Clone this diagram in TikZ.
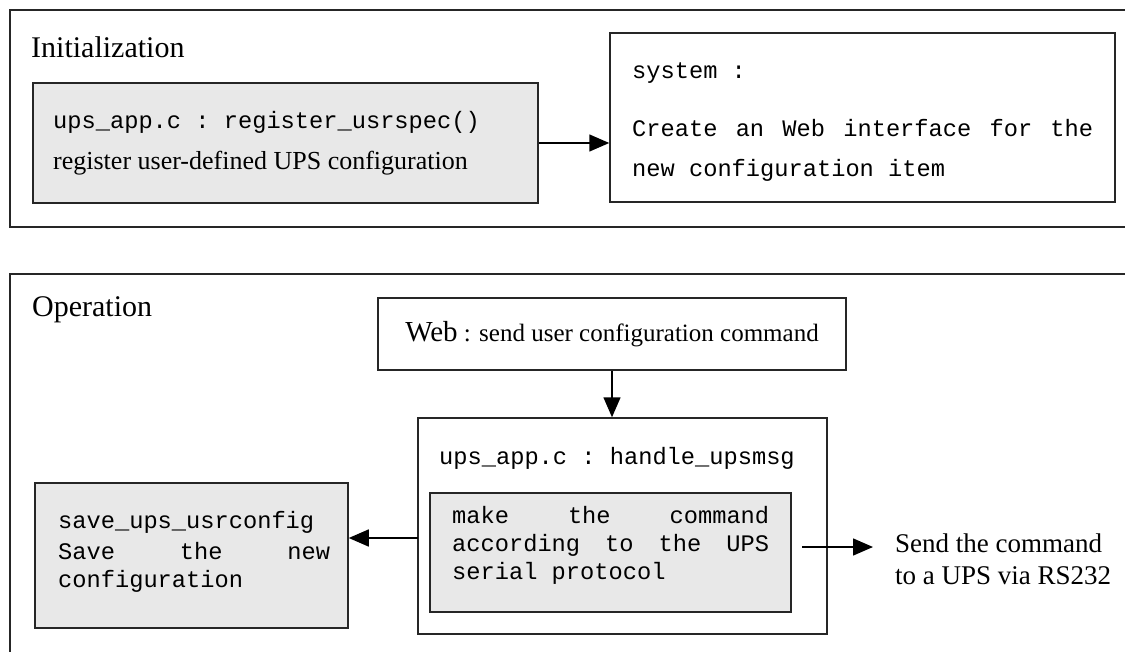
\documentclass[tikz,border=0pt]{standalone}
\usepackage{fontspec}
\setmainfont{Liberation Serif}
\setmonofont{Liberation Mono}
\usetikzlibrary{arrows.meta}

\newcommand{\codefont}{\ttfamily\fontsize{23.7}{28}\selectfont}
\newcommand{\notefont}{\fontsize{26}{32}\selectfont}

\begin{document}
\begin{tikzpicture}[x=1pt,y=-1pt,
  box/.style={draw=black!85,line width=1.5pt,inner sep=0pt},
  graybox/.style={box,fill=black!9},
  code/.style={font=\codefont,inner sep=0pt,anchor=west},
  note/.style={font=\notefont,inner sep=0pt,anchor=west},
  heading/.style={font=\fontsize{30}{32}\selectfont,inner sep=0pt,anchor=west},
  arr/.style={draw=black,line width=1.5pt,-{Triangle[length=20pt,width=17pt]}}]
\useasboundingbox (0,0) rectangle (1125,652);
\clip (0,0) rectangle (1125,652);
% initialization part
\draw [box] (10,10) rectangle (1145,227);
\node [heading] (init) at (31,47) {Initialization};
\node [graybox,minimum width=505pt,minimum height=120pt] (reg) at (285.5,143) {};
\node [code] (regcall) at (53,122) {ups\_app.c : register\_usrspec()};
\node [note] (regnote) at (53,163) {register user-defined UPS configuration};
\node [box,minimum width=505pt,minimum height=169pt] (sys) at (862.5,117.5) {};
\node [code] (systitle) at (632,73) {system :};
\node [code] (sysline) at (632,128) {\makebox[461pt][l]{Create \hfill an \hfill Web \hfill interface \hfill for \hfill the}};
\node [code] (sysitem) at (632,170) {new configuration item};
\draw [arr] (reg.east) -- (reg.east -| sys.west);
% operation part
\draw [box] (10,274) rectangle (1145,680);
\node [heading] (oper) at (32,310) {Operation};
\node [box,font=\fontsize{25}{30}\selectfont,minimum width=468pt,minimum height=72pt] (web) at (612,334)
  {{\fontsize{29}{30}\selectfont Web} : send user configuration command};
\node [box,minimum width=409pt,minimum height=216pt] (handle) at (622.5,526) {};
\node [code] (handlecall) at (439,458) {ups\_app.c : handle\_upsmsg};
\node [graybox,minimum width=361pt,minimum height=119pt] (make) at (610.5,552.5) {};
\node [code,align=left] (maketext) at (452,545)
  {\makebox[317pt][l]{make \hfill the \hfill command}\\
   \makebox[317pt][l]{according \hfill to \hfill the \hfill UPS}\\
   serial protocol};
\node [graybox,minimum width=313pt,minimum height=145pt] (save) at (191.5,555.5) {};
\node [code] (savecall) at (58,522) {save\_ups\_usrconfig};
\node [code,align=left] (savetext) at (58,567)
  {\makebox[272pt][l]{Save \hfill the \hfill new}\\ configuration};
\node [note,font=\fontsize{27}{32}\selectfont,align=left] (send) at (895,559)
  {Send the command\\to a UPS via RS232};
\draw [arr] (web.south) -- (web.south |- handle.north);
\coordinate (hleft) at (418,538);
\draw [arr] (hleft) -- (hleft -| save.east);
\coordinate (hright) at (802,547);
\draw [arr,shorten >=22pt] (hright) -- (hright -| send.west);
\end{tikzpicture}
\end{document}
